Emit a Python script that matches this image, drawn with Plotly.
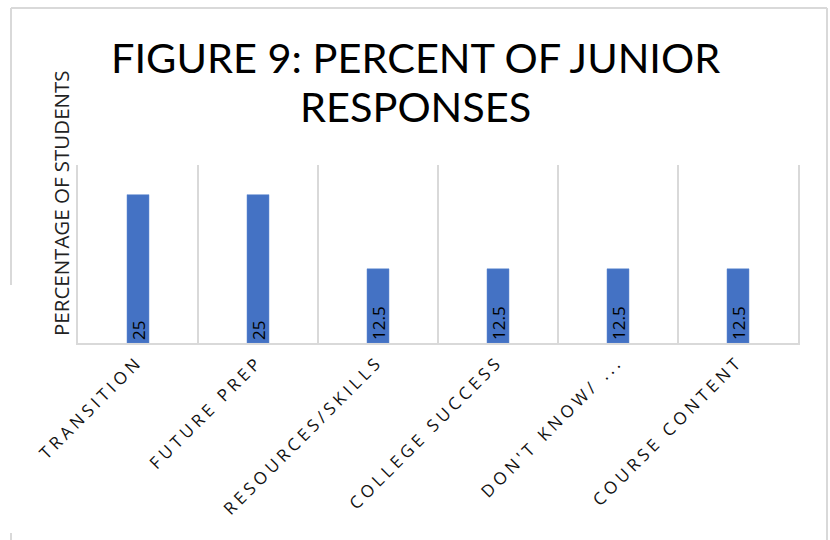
import plotly.graph_objects as go

categories = ["TRANSITION", "FUTURE PREP", "RESOURCES/SKILLS", "COLLEGE SUCCESS", "DON'T KNOW/ ...", "COURSE CONTENT"]
values = [25, 25, 12.5, 12.5, 12.5, 12.5]
labels = ["25", "25", "12.5", "12.5", "12.5", "12.5"]
title_lines = ["FIGURE 9: PERCENT OF JUNIOR", "RESPONSES"]
y_title = "PERCENTAGE OF STUDENTS"

W, H = 830, 540
ml, mr, mt, mb = 78, 32, 165, 197
pw, ph = W - ml - mr, H - mt - mb

def px(x):
    return (x - ml) / pw

def py(y):
    return (H - mb - y) / ph

grid = "#d9d9d9"

fig = go.Figure()
fig.add_trace(go.Bar(
    x=categories, y=values, text=labels,
    marker=dict(color="#4472C4", line=dict(color="#5b86d0", width=0.5)),
    width=0.183,
    textposition="inside", insidetextanchor="start", textangle=-90,
    textfont=dict(family="Open Sans", size=17, color="black"),
    constraintext="none",
    cliponaxis=False,
))

fig.update_layout(
    width=W, height=H,
    margin=dict(l=ml, r=mr, t=mt, b=mb),
    paper_bgcolor="white", plot_bgcolor="white",
    showlegend=False,
    xaxis=dict(
        type="category", range=[-0.5, 5.5],
        tickson="boundaries", showgrid=True, gridcolor=grid, gridwidth=1.5,
        showline=True, linecolor=grid, linewidth=2,
        ticks="", tickangle=-45,
        tickfont=dict(family="Open Sans", size=17, color="#111111"),
    ),
    yaxis=dict(
        range=[0, 30], showgrid=False, showticklabels=False, zeroline=False,
        showline=True, linecolor=grid, linewidth=1.5, mirror=True, ticks="",
    ),
    annotations=[
        dict(text=title_lines[0], xref="paper", yref="paper", x=px(415), y=py(57),
             xanchor="center", yanchor="middle", showarrow=False,
             font=dict(family="Lato", size=41.5, color="black")),
        dict(text=title_lines[1], xref="paper", yref="paper", x=px(415), y=py(106),
             xanchor="center", yanchor="middle", showarrow=False,
             font=dict(family="Lato", size=41.5, color="black")),
        dict(text=y_title, textangle=-90,
             xref="paper", yref="paper", x=px(61), y=py(203),
             xanchor="center", yanchor="middle", showarrow=False,
             font=dict(family="Open Sans", size=20.5, color="#222222")),
    ],
    shapes=[
        dict(type="line", xref="paper", yref="paper", x0=px(11), x1=px(827), y0=py(8), y1=py(8), line=dict(color=grid, width=2)),
        dict(type="line", xref="paper", yref="paper", x0=px(827), x1=px(827), y0=py(8), y1=py(540), line=dict(color=grid, width=2)),
        dict(type="line", xref="paper", yref="paper", x0=px(11), x1=px(11), y0=py(8), y1=py(285), line=dict(color=grid, width=2)),
        dict(type="line", xref="paper", yref="paper", x0=px(11), x1=px(11), y0=py(533), y1=py(540), line=dict(color=grid, width=2)),
    ],
)

post = """
document.body.style.margin = '0';
document.querySelectorAll('.xtick text').forEach(function(t){ t.setAttribute('letter-spacing', '4px'); });
"""
fig.write_html("out.html", post_script=post, config={"displayModeBar": False})
